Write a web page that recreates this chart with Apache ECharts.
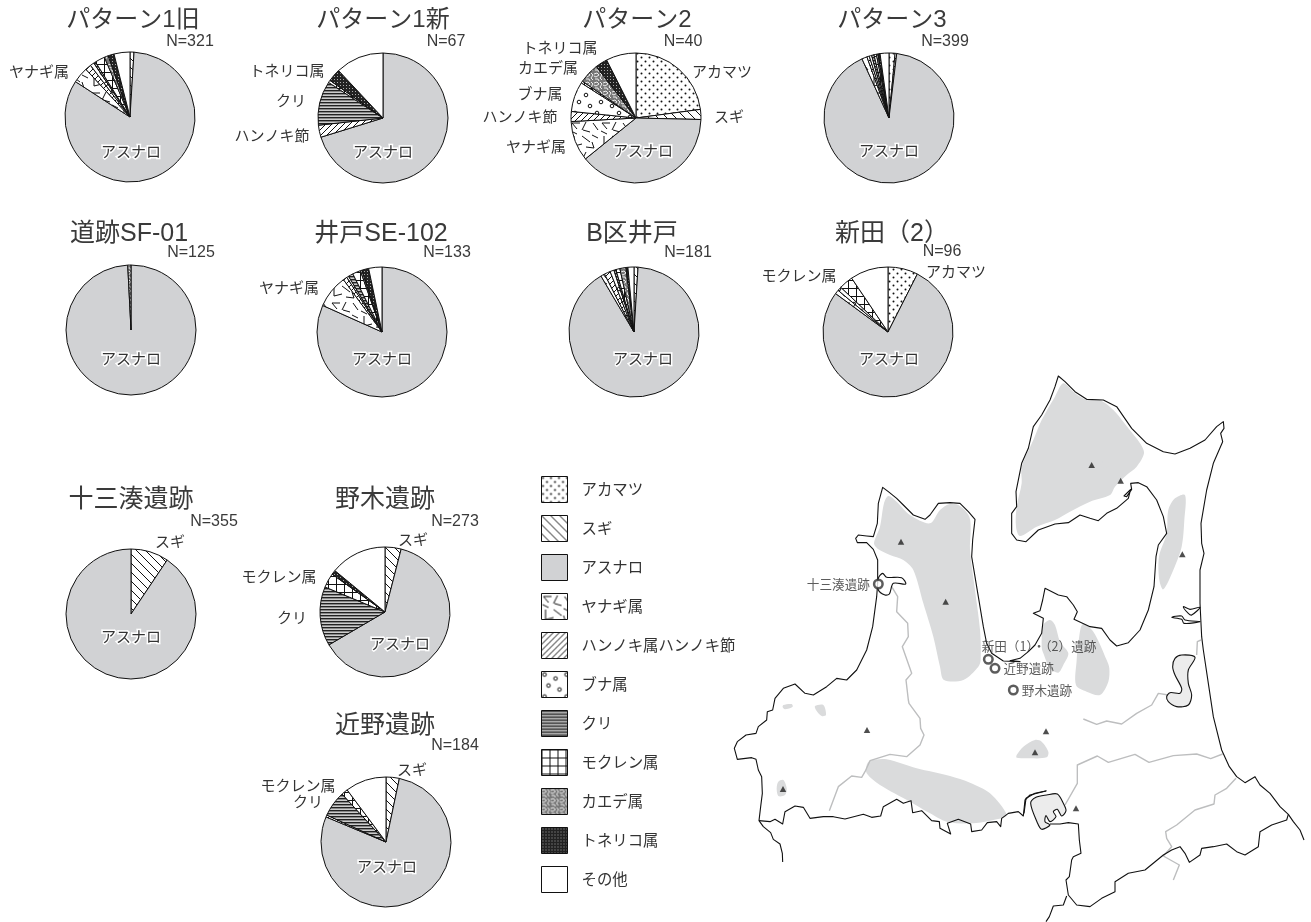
<!DOCTYPE html>
<html><head><meta charset="utf-8">
<style>html,body{margin:0;padding:0;background:#fff}#c{width:1311px;height:922px}</style>
<script src="https://cdn.jsdelivr.net/npm/echarts@6/dist/echarts.min.js"></script>
</head><body><div id="c"></div>
<script>
// ---------- categories ----------
const taxa = ['アカマツ','スギ','アスナロ','ヤナギ属','ハンノキ属ハンノキ節','ブナ属','クリ','モクレン属','カエデ属','トネリコ属','その他'];
// ---------- values (percent, clockwise from 12 o'clock, in taxa order) ----------
const p1old  = [0,1,84,4,1.5,1,0.5,2.5,1,1.5,4];
const p1new  = [0,0,70.3,0,3,0,11,0.6,0,3.2,12];
const p2     = [23,2.5,39,10,2.5,7.5,0,0.5,5,3,7.5];
const p3     = [1.5,0.4,91,1.3,0.6,0.6,0.6,0.6,0.4,0.5,2.2];
const sf01   = [0,0,99.2,0,0,0,0,0,0.8,0,0];
const se102  = [0,0,81.7,8.2,1,0.5,1.2,2,0.4,1.7,3.3];
const bwell  = [0,1,90.7,1,1.5,1,0.5,1,1.5,0.5,1.5];
const nitta2 = [7.5,0,78,1,0,1,0,3.5,0,0,9.5];
const jusan  = [0,9.4,90.6,0,0,0,0,0,0,0,0];
const noki   = [0,4,62.5,0,0,0,14.7,3.6,0,1.1,14];
const chikano= [0,3.3,78,0,0.5,0,6.4,1.6,0,0,10.2];
// ---------- titles ----------
const pieTitles = ['パターン1旧','パターン1新','パターン2','パターン3','道跡SF-01','井戸SE-102','B区井戸','新田（2）','十三湊遺跡','野木遺跡','近野遺跡'];
const titleSize = [24,24,24,24,25,25,25,25,25,25,25];
const pieN = ['N=321','N=67','N=40','N=399','N=125','N=133','N=181','N=96','N=355','N=273','N=184'];
const pieValues = [p1old,p1new,p2,p3,sf01,se102,bwell,nitta2,jusan,noki,chikano];
// ---------- layout ----------
const centers = [[130,117],[383,118],[636,118],[889,118],[131,330],[382,332],[634,332],[888,332],[131,614],[385,612],[386,842]];
const titlePos = [[133,20],[383,20],[637,20],[892,20],[129,234],[381,234],[632,234],[892,234],[131,500],[385,500],[385,726]];
const nPos = [[190,42],[446,42],[683,42],[945,42],[191,253],[447,253],[688,253],[942,252],[214,522],[455,522],[455,746]];
const asunaroPos = [[131,151],[383,151],[643,150],[889,150],[131,358],[382,358],[643,358],[889,358],[131,636],[400,643],[387,866]];
const calloutPos = [
  {'ヤナギ属':[39,71]},
  {'トネリコ属':[287,70],'クリ':[291,100],'ハンノキ属ハンノキ節':[272,135]},
  {'トネリコ属':[560,47],'カエデ属':[548,67],'ブナ属':[540,93],'ハンノキ属ハンノキ節':[520,116],'ヤナギ属':[536,146],'アカマツ':[722,71],'スギ':[729,116]},
  {}, {},
  {'ヤナギ属':[289,287]},
  {},
  {'モクレン属':[799,275],'アカマツ':[956,271]},
  {'スギ':[170,541]},
  {'スギ':[413,539],'モクレン属':[279,576],'クリ':[292,617]},
  {'スギ':[412,769],'モクレン属':[298,785],'クリ':[308,801]}
];
const shortName = {'ハンノキ属ハンノキ節':'ハンノキ節'};
const cropNW = p => p.map(([x,y]) => [730+x/3, 480+y/3]);
const cropNE = p => p.map(([x,y]) => [1000+x/3, 370+y/3]);
const cropSW = p => p.map(([x,y]) => [730+x/3, 690+y/3]);
const cropSE = p => p.map(([x,y]) => [1000+x/3, 650+y/3]);
const coast = [
 ...cropSW([[158,516],[157,490],[150,462],[130,448],[122,428],[100,410],[87,392],[92,350],[97,310],[95,260],[85,240],[78,208],[65,203],[22,208],[13,175],[22,155],[48,135],[78,130],[85,110],[110,90],[112,65],[128,60],[135,25]]),
 ...cropNW([[160,625],[195,612],[225,640],[250,645],[290,620],[320,595],[350,600],[380,570],[410,510],[428,440],[440,350],[443,310],[443,240],[430,208],[410,188],[382,188],[377,175],[385,165],[410,168],[430,170],[442,130],[445,70],[458,22],[475,35],[500,55],[520,75],[550,105],[585,118],[600,105],[625,70],[660,68],[690,70],[715,95],[735,118],[728,180],[725,230],[745,350],[760,440],[770,490],[785,520],[820,543],[870,545]]),
 ...cropNE([[30,872],[60,865],[85,845],[105,825],[125,790],[130,745],[100,730],[120,722],[128,690],[135,655],[175,675],[200,680],[220,705],[232,725],[222,748],[270,770],[305,775],[330,810],[350,828],[385,818],[420,780],[445,720],[462,650],[468,560],[475,525],[500,490],[490,440],[470,390],[440,350],[415,338],[392,340],[395,358],[380,380],[372,378],[392,358],[385,385],[350,415],[320,430],[295,452],[270,445],[240,435],[205,458],[165,462],[115,480],[78,515],[50,510],[35,490],[35,430],[50,410],[48,365],[65,280],[85,235],[100,170],[125,135],[150,90],[165,50],[175,18],[195,35],[225,65],[260,88],[310,90],[350,110],[395,175],[440,220],[490,245],[525,252],[570,235],[615,210],[650,170],[670,155],[672,175],[662,190],[668,215],[640,280],[620,360],[603,460],[605,520],[612,550],[600,600],[600,700],[605,800]]),
 ...cropSE([[610,0],[625,100],[640,200],[665,300],[688,350],[710,380],[735,398],[765,380],[780,405],[810,430],[840,470],[865,493],[880,515],[900,540],[912,570]])
];
const border1 = cropSW([[87,392],[120,395],[135,388],[158,402],[165,365],[195,348],[220,352],[240,385],[280,380],[310,380],[345,387],[400,373],[425,382],[452,378],[460,350],[500,328],[520,340],[543,332],[548,368],[575,362],[605,392],[628,395],[630,415],[662,432],[652,400],[685,388],[722,402],[725,425],[755,420],[772,398],[800,395],[812,410],[815,385],[835,370],[865,365],[880,378],[885,330],[900,315],[948,303]]);
const border2 = cropSE([[150,522],[180,522],[205,518],[235,522],[238,570],[243,610],[220,620],[215,630],[208,680],[198,690],[205,735],[230,765],[270,770],[305,745],[345,725],[345,695],[385,670],[435,660],[490,615],[515,600],[540,590],[555,610],[568,637],[600,615],[605,595],[640,590],[680,582],[710,605],[735,615],[775,590],[780,545],[815,525],[860,510],[865,493]]);
const border3 = cropSE([[200,738],[190,765],[160,768],[148,800],[138,815]]);
const inlets = [
  cropNE([[515,742],[545,738],[555,750],[600,755],[552,760],[545,748]]),
  cropNE([[550,710],[570,718],[600,712],[575,735],[565,730]])
];
const rivers = [
  [...cropNW([[485,320],[503,350],[500,395],[533,430],[535,470],[517,500],[545,580],[528,600],[535,660]]),
   ...cropSW([[537,40],[570,85],[572,115],[582,135],[570,165],[530,200],[480,193],[420,212],[405,245],[395,262],[365,258],[325,290],[298,362]])],
  cropSE([[250,207],[290,223],[320,213],[365,222],[410,190],[455,165],[475,130],[505,135]]),
  cropNE([[603,810],[592,815],[590,855]]),
  cropSE([[195,465],[232,400],[232,345],[292,318],[325,337],[405,313],[447,337],[520,317],[590,312],[632,326],[668,312]]),
  cropSE([[708,385],[680,415],[645,435],[642,462],[585,480],[530,525],[497,545],[500,565],[515,590],[490,618],[538,645],[520,690]])
];
const grayRegions = [
  cropNE([[190,40],[225,70],[260,90],[300,90],[345,125],[385,175],[420,220],[432,250],[410,290],[380,315],[345,350],[330,375],[270,395],[210,425],[165,450],[110,470],[60,498],[48,470],[50,410],[65,340],[65,290],[100,210],[125,150],[165,80]]),
  cropNW([[475,48],[500,65],[540,105],[600,130],[630,90],[660,72],[690,78],[718,110],[722,150],[720,210],[735,330],[750,450],[752,540],[745,560],[700,600],[642,600],[630,560],[610,470],[580,370],[550,270],[520,240],[480,225],[445,208],[432,190],[450,140],[462,70]]),
  cropNE([[555,375],[553,450],[545,530],[520,600],[490,658],[478,630],[477,560],[500,490],[505,420],[525,385]]),
  [...cropNE([[130,765],[150,750],[165,765],[180,815],[205,850]]),...cropSE([[190,45],[175,68],[150,55],[130,10]]),...cropNE([[125,830]])],
  [...cropNE([[248,762],[280,785],[320,870],[328,895]]),...cropSE([[325,95],[300,135],[260,125],[228,105],[230,30]]),...cropNE([[235,820]])],
  cropSW([[860,195],[880,170],[915,150],[935,155],[955,185],[950,202],[900,205],[860,203]]),
  cropSW([[420,212],[470,208],[560,235],[660,258],[720,278],[780,310],[830,375],[800,388],[730,400],[650,395],[600,370],[540,335],[450,285],[410,250],[410,225]]),
  cropSW([[160,45],[185,42],[188,50],[165,58],[158,52]]),
  cropSW([[255,48],[280,45],[288,75],[275,78],[258,60]]),
  cropSW([[145,275],[160,270],[170,295],[165,315],[145,318],[140,295]]),
  cropNE([[303,278],[320,275],[328,285],[315,295],[303,288]])
];
const lakes = [
  cropSE([[525,25],[545,15],[585,22],[565,60],[565,100],[575,135],[565,165],[530,170],[505,155],[500,140],[510,128],[540,130],[545,115],[525,75],[518,50]]),
  cropSE([[92,460],[108,442],[140,435],[172,432],[190,460],[198,482],[185,498],[172,478],[160,485],[168,500],[150,515],[138,497],[135,515],[150,525],[125,538],[112,518]])
];
const towadaOuter = cropSE([[72,490],[78,445],[105,430],[140,422]]);
const jusanLake = cropNW([[445,295],[458,280],[470,292],[515,293],[527,312],[490,310],[478,342],[465,345],[445,330]]);
const peaks = [...cropNE([[275,285],[362,332],[547,553]]),...cropNW([[513,185],[647,365]]),...cropSW([[411,120],[948,124],[915,187],[159,297]]),...cropSE([[228,475]])];
const sitePoints = [...cropNW([[445,312],[775,538],[795,565],[850,630]])];
const siteNames = ['十三湊遺跡','','近野遺跡','野木遺跡'];
const siteSides = ['left','right','right','right'];
const nittaPoint = [1039,646];
const nittaName = '新田（1）・（2）遺跡';

// ---------- texture tiles ----------
function tile(w,h,bg,draw){const c=document.createElement('canvas');c.width=w;c.height=h;const g=c.getContext('2d');g.fillStyle=bg;g.fillRect(0,0,w,h);g.strokeStyle='#111';g.fillStyle='#111';g.lineWidth=1;draw(g);return {image:c,repeat:'repeat'};}
function seg(g,a){g.beginPath();for(let i=0;i<a.length;i+=4){g.moveTo(a[i],a[i+1]);g.lineTo(a[i+2],a[i+3]);}g.stroke();}
const fills = {
 'アカマツ':tile(8,8,'#fff',g=>{[[1,1],[5,5]].forEach(p=>{g.beginPath();g.arc(p[0]+.5,p[1]+.5,1,0,7);g.fill();});}),
 'スギ':tile(9,9,'#fff',g=>{seg(g,[-1,-1,10,10,-1,8,1,10,8,-1,10,1]);}),
 'アスナロ':'#d1d2d4',
 'ヤナギ属':tile(30,30,'#fff',g=>{seg(g,[2,3,10,3,2,3,7,9,16,2,12,10,13,10,20,12,23,3,28,10,4,16,4,26,4,26,12,24,12,16,20,22,22,15,28,18,16,27,24,28,24,28,22,22,1,11,7,14]);}),
 'ハンノキ属ハンノキ節':tile(6,6,'#fff',g=>{seg(g,[-1,7,7,-1,-1,1,1,-1,5,7,7,5]);}),
 'ブナ属':tile(22,22,'#fff',g=>{[[3,3],[14,7],[7,14],[18,18]].forEach(p=>{g.beginPath();g.arc(p[0],p[1],1.8,0,7);g.stroke();});}),
 'クリ':tile(4,3,'#fff',g=>{g.fillStyle='#222';g.fillRect(0,0,4,1);g.fillStyle='#888';g.fillRect(0,1,4,1);g.fillStyle='#ccc';g.fillRect(0,2,4,1);}),
 'モクレン属':tile(8,8,'#fff',g=>{g.fillRect(0,0,8,1);g.fillRect(0,0,1,8);}),
 'カエデ属':tile(9,9,'#777',g=>{g.strokeStyle='#eee';seg(g,[0,2,3,1,3,1,5,3,5,3,2,5,2,5,0,4,6,1,8,3,8,3,6,6,6,6,8,8,1,7,4,7,4,7,5,9]);}),
 'トネリコ属':tile(3,3,'#222',g=>{g.fillStyle='#aaa';g.fillRect(1,1,1,1);}),
 'その他':'#fff'
};

// ---------- chart ----------
const cjk = '"Noto Sans CJK JP","Noto Sans",sans-serif';
const mixed = '"Liberation Sans","Noto Sans CJK JP",sans-serif';
const titles = [];
pieTitles.forEach((t,i)=>titles.push({text:t,left:titlePos[i][0],top:titlePos[i][1]-16,textAlign:'center',padding:0,
  textStyle:{fontFamily:mixed,fontSize:titleSize[i],fontWeight:'normal',color:'#3a3a3a',lineHeight:32}}));
pieN.forEach((t,i)=>titles.push({text:t,left:nPos[i][0],top:nPos[i][1]-9,textAlign:'center',padding:0,
  textStyle:{fontFamily:'"Liberation Sans",sans-serif',fontSize:16,fontWeight:'normal',color:'#3a3a3a',lineHeight:18}}));

const pieSeries = pieValues.map((vals,pi)=>{
  const data=[]; vals.forEach((v,k)=>{ if(v>0) data.push({name:taxa[k],value:v,itemStyle:{color:fills[taxa[k]]}}); });
  return {type:'pie',center:centers[pi],radius:[0,65],startAngle:90,clockwise:true,silent:true,animation:false,z:5,
    itemStyle:{borderColor:'#111',borderWidth:1},
    labelLine:{show:false},
    label:{show:true,position:'outside',overflow:'none',fontFamily:cjk,fontSize:15,color:'#333',
      formatter:p=>{ if(p.name==='アスナロ')return 'アスナロ'; return calloutPos[pi][p.name]?(shortName[p.name]||p.name):''; },
      align:'center',verticalAlign:'middle'},
    data:data.map(d=>d.name==='アスナロ'?Object.assign(d,{label:{textBorderColor:'#fff',textBorderWidth:3,color:'#333'}}):d),
    labelLayout:function(params){
      const n=data[params.dataIndex].name;
      const p=n==='アスナロ'?asunaroPos[pi]:calloutPos[pi][n];
      if(!p) return {};
      return {x:p[0],y:p[1],align:'center',verticalAlign:'middle',hideOverlap:false,moveOverlap:false};
    }
  };
});

const lineSer=(d,color,w,z)=>({type:'line',data:d,showSymbol:false,symbol:'none',silent:true,animation:false,lineStyle:{color:color,width:w,join:'round'},z:z});
const polySer=(polys,fill,stroke,z)=>({type:'custom',coordinateSystem:'cartesian2d',silent:true,animation:false,z:z,
  data:polys.map((_,i)=>[i]),
  encode:{x:-1,y:-1},
  renderItem:(params,api)=>{const pts=polys[params.dataIndex].map(p=>api.coord(p));return {type:'polygon',shape:{points:pts,smooth:0.3},style:{fill:fill,stroke:stroke,lineWidth:stroke?1.1:0}};}
});
const mapSeries=[
  polySer(grayRegions,'#dadbdc',null,1),
  ...rivers.map(r=>lineSer(r,'#bdbebf',1.4,2)),
  polySer(lakes,'#ececec','#111',3),
  polySer([jusanLake],'#fff','#111',3),
  polySer(inlets,'#fff','#111',3),
  lineSer(coast,'#111',1.1,3),lineSer(border1,'#111',1.1,3),lineSer(border2,'#111',1.1,3),lineSer(border3,'#111',1.1,3),lineSer(towadaOuter,'#111',1.1,3),
  {type:'scatter',data:peaks,symbol:'triangle',symbolSize:[6.5,6],itemStyle:{color:'#222'},silent:true,animation:false,z:4},
  {type:'scatter',symbol:'circle',symbolSize:8.5,itemStyle:{color:'#fff',borderColor:'#333',borderWidth:2.5},silent:true,animation:false,z:6,
   data:sitePoints.map((s,i)=>({value:s,name:siteNames[i],label:{position:siteSides[i]}})),
   label:{show:true,formatter:p=>p.name,distance:3,fontFamily:cjk,fontSize:12.6,color:'#333'}},
  {type:'scatter',data:[{value:nittaPoint,name:nittaName}],symbolSize:0,silent:true,animation:false,z:6,
   label:{show:true,position:'inside',formatter:p=>p.name,fontFamily:cjk,fontSize:12.6,color:'#333'}}
];

const option={
  animation:false,
  backgroundColor:'#fff',
  title:titles,
  legend:{orient:'vertical',left:541,top:476,padding:0,itemWidth:26,itemHeight:26,itemGap:12,selectedMode:false,icon:'rect',
    data:taxa,textStyle:{fontFamily:cjk,fontSize:15.4,color:'#333',padding:[0,0,0,9]},itemStyle:{borderColor:'#111',borderWidth:1}},
  grid:{left:730,top:370,width:581,height:552,show:false},
  xAxis:{type:'value',min:730,max:1311,show:false},
  yAxis:{type:'value',min:370,max:922,inverse:true,show:false},
  series:[...mapSeries,...pieSeries]
};
const chart=echarts.init(document.getElementById('c'),null,{renderer:'canvas'});
chart.setOption(option);
</script></body></html>
